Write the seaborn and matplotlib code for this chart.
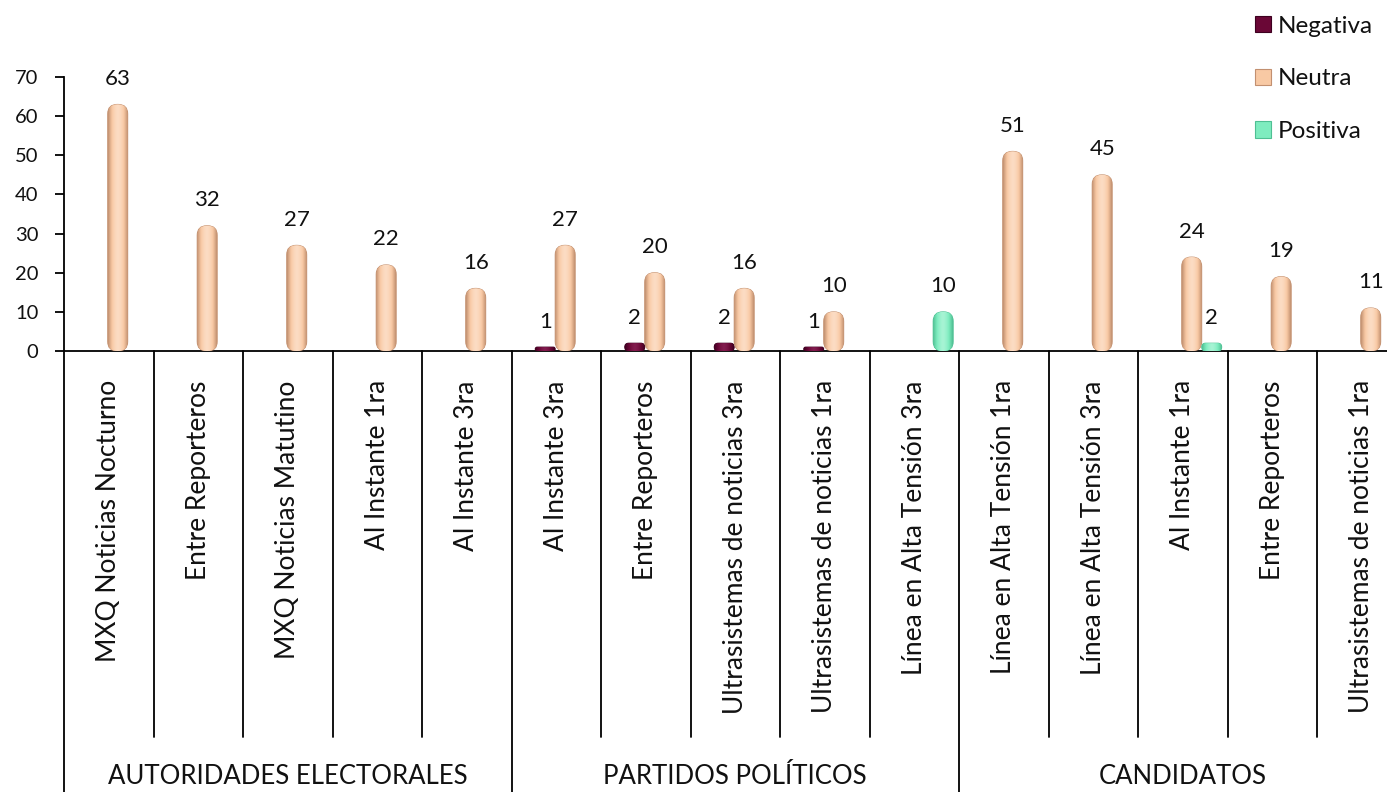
import numpy as np
import pandas as pd
import matplotlib
matplotlib.use('Agg')
import matplotlib.pyplot as plt
import matplotlib.transforms as mtransforms
from matplotlib.patches import FancyBboxPatch, Patch
from matplotlib.colors import LinearSegmentedColormap
import seaborn as sns

# data
grupos = ['AUTORIDADES ELECTORALES', 'PARTIDOS POLÍTICOS', 'CANDIDATOS']
programas = ['MXQ Noticias Nocturno', 'Entre Reporteros', 'MXQ Noticias Matutino',
             'Al Instante 1ra', 'Al Instante 3ra',
             'Al Instante 3ra', 'Entre Reporteros', 'Ultrasistemas de noticias 3ra',
             'Ultrasistemas de noticias 1ra', 'Línea en Alta Tensión 3ra',
             'Línea en Alta Tensión 1ra', 'Línea en Alta Tensión 3ra', 'Al Instante 1ra',
             'Entre Reporteros', 'Ultrasistemas de noticias 1ra']
negativa = [0, 0, 0, 0, 0, 1, 2, 2, 1, 0, 0, 0, 0, 0, 0]
neutra = [63, 32, 27, 22, 16, 27, 20, 16, 10, 0, 51, 45, 24, 19, 11]
positiva = [0, 0, 0, 0, 0, 0, 0, 0, 0, 10, 0, 0, 2, 0, 0]
series = ['Negativa', 'Neutra', 'Positiva']
colores = ['#6a0736', '#f8c9a4', '#7eecbf']
claros = ['#8a2456', '#fde3cf', '#b5f7dc']
bordes = ['#3d0020', '#c29070', '#4fbf93']

rows = []
for i in range(len(programas)):
    for s, vals in zip(series, [negativa, neutra, positiva]):
        rows.append({'pos': i, 'serie': s, 'valor': vals[i]})
df = pd.DataFrame(rows)

sns.set_theme(style='white')
plt.rcParams['font.family'] = ['Lato', 'DejaVu Sans']
txt = '#111111'

W, H = 1387, 792
fig = plt.figure(figsize=(W / 100, H / 100), dpi=100)
x0, x1, y0, y1 = 64, 1406.5, 351, 77
ax = fig.add_axes([x0 / W, 1 - y0 / H, (x1 - x0) / W, (y0 - y1) / H])

sns.barplot(data=df, x='pos', y='valor', hue='serie', hue_order=series,
            palette=colores, saturation=1, width=0.67, dodge=True,
            legend=False, errorbar=None, ax=ax)

# swap flat bars for rounded, shaded "cylinder" bars, shifted like the 3D perspective
px_x = (x1 - x0) / len(programas)
px_y = (y0 - y1) / 70
aspect = px_x / px_y
shift = 0.1
grad = np.abs(np.linspace(-1, 1, 64)) ** 1.6
grad = 1 - np.vstack([grad, grad])
for k, cont in enumerate(ax.containers):
    cmap = LinearSegmentedColormap.from_list(f'c{k}', [bordes[k], colores[k], claros[k]])
    for p, v in zip(cont.patches, cont.datavalues):
        p.set_visible(False)
        if v <= 0:
            continue
        bx, bw = p.get_x() + shift, p.get_width()
        r_px = min(9.5, v * px_y / 2)
        fb = FancyBboxPatch((bx, 0), bw, v,
                            boxstyle=f'round,pad=0,rounding_size={r_px / px_x:.4f}',
                            mutation_aspect=aspect, facecolor=colores[k],
                            edgecolor=bordes[k], lw=0.7, zorder=3)
        ax.add_patch(fb)
        im = ax.imshow(grad, extent=[bx, bx + bw, 0, v], aspect='auto', cmap=cmap,
                       vmin=0, vmax=1.15, zorder=3.5, interpolation='bilinear')
        im.set_clip_path(fb)
        ax.annotate(f'{int(v)}', (bx + bw / 2, v), xytext=(0, 14),
                    textcoords='offset points', ha='center', va='baseline',
                    fontsize=16, color=txt)

ax.set_xlim(-0.5, len(programas) - 0.5)
ax.set_ylim(0, 70)
ax.set_yticks(range(0, 71, 10))

for s in ['top', 'right']:
    ax.spines[s].set_visible(False)
for s in ['left', 'bottom']:
    ax.spines[s].set_color('black')
    ax.spines[s].set_linewidth(1.3)

ax.set_xticks(range(len(programas)))
ax.set_xticklabels(programas, rotation=90, va='top', ha='center', fontsize=19, color=txt)
ax.tick_params(axis='x', length=0, pad=21)
ax.tick_params(axis='y', length=6.5, width=1.3, color='black', pad=12, labelsize=14.5,
               labelcolor=txt, left=True)
ax.set_xlabel('')
ax.set_ylabel('')

# category separators below the axis
trans = mtransforms.blended_transform_factory(ax.transData, ax.transAxes)
ax_h = y0 - y1
inner = (y0 - 737) / ax_h
full = (y0 - 800) / ax_h
for i in range(len(programas)):
    b = i - 0.5
    yb = full if i % 5 == 0 else inner
    ax.plot([b, b], [0, yb], color='black', lw=1.3, transform=trans, clip_on=False)

for g, nombre in enumerate(grupos):
    ax.text(g * 5 + 2, (y0 - 776) / ax_h, nombre, transform=trans, ha='center', va='center',
            fontsize=18.5, color=txt)

handles = [Patch(facecolor=c, edgecolor=e, lw=0.8) for c, e in zip(colores, bordes)]
fig.legend(handles, series, loc='upper left', bbox_to_anchor=(1233 / W, 1 + 6 / H),
           frameon=False, fontsize=17.5, handlelength=0.65, handleheight=0.65,
           handletextpad=0.3, labelspacing=1.3, labelcolor=txt)

fig.savefig('out.png', dpi=100)
